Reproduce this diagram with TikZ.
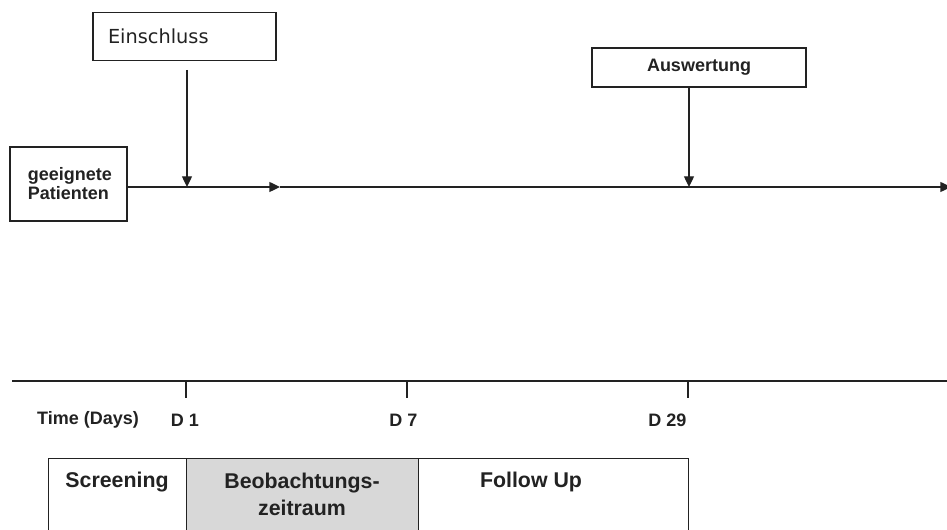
\documentclass[tikz,border=0pt]{standalone}
\usepackage{fontspec}
\setmainfont{Liberation Sans}
\newfontfamily\dejavu{DejaVu Sans}
\usetikzlibrary{arrows.meta}
\definecolor{ink}{HTML}{222222}
\definecolor{cellgray}{HTML}{D8D8D8}
\begin{document}
\begin{tikzpicture}[x=0.75pt,y=-0.75pt,
  box/.style={draw=ink,line width=1pt,inner sep=0pt},
  arr/.style={draw=ink,line width=1pt,-{Triangle[length=8pt,width=7.5pt]}},
  ln/.style={draw=ink,line width=1pt},
  lab/.style={inner sep=0pt,font=\bfseries\fontsize{13.5}{16}\selectfont,text=ink},
  cell/.style={draw=ink,line width=1pt,minimum height=66pt,inner sep=0pt,anchor=north west},
  celltext/.style={inner sep=0pt,align=center,font=\bfseries\fontsize{16}{20.25}\selectfont,text=ink}]
\useasboundingbox (0,0) rectangle (947,530);
\clip (0,0) rectangle (947,530);
% top boxes
\node[box,minimum height=36pt,text width=114.75pt,inner xsep=11.25pt,align=left,
      font=\dejavu\fontsize{14.5}{17}\selectfont,text=ink] (ein) at (184.5,36.5) {Einschluss};
\node[box,minimum height=55.5pt,text width=61pt,inner xsep=13.4pt,align=left,
      font=\bfseries\fontsize{13.5}{14.25}\selectfont,text=ink] (pat) at (68.5,184) {geeignete\\Patienten};
\node[box,minimum width=160.5pt,minimum height=29.25pt,
      font=\bfseries\fontsize{13.5}{16}\selectfont,text=ink] (aus) at (699,67.5) {Auswertung};
% flow line
\coordinate (m1) at (280,187);
\coordinate (fend) at (951,187);
\coordinate (e0) at (187,70);
\coordinate (a1) at (689,187);
\draw[arr] (pat.east |- m1) -- (m1);
\draw[arr] (m1) -- (fend);
\draw[arr] (e0) -- (e0 |- m1);
\draw[arr] (aus.south -| a1) -- (a1);
% timeline
\coordinate (t0) at (12,381);
\coordinate (t1) at (947,381);
\coordinate (d1) at (186,381);
\coordinate (d7) at (407,381);
\coordinate (d29) at (688,381);
\draw[ln] (t0) -- (t1);
\draw[ln] (d1) -- ++(0,17);
\draw[ln] (d7) -- ++(0,17);
\draw[ln] (d29) -- ++(0,17);
\node[lab] (tl) at (88,420) {Time (Days)};
\node[lab] (l1) at (185,420) {D 1};
\node[lab] (l7) at (403.5,420) {D 7};
\node[lab] (l29) at (667.5,420) {D 29};
% table
\node[cell,minimum width=103.5pt] (scr) at (48,458) {};
\node[cell,minimum width=174pt,fill=cellgray] (beo) at (186,458) {};
\node[cell,minimum width=202.5pt] (fol) at (418,458) {};
\node[celltext] (tscr) at (117,482) {Screening};
\node[celltext,anchor=north] (tbeo) at (302,473) {Beobachtungs-\\zeitraum};
\node[celltext] (tfol) at (531,482) {Follow Up};
\end{tikzpicture}
\end{document}
